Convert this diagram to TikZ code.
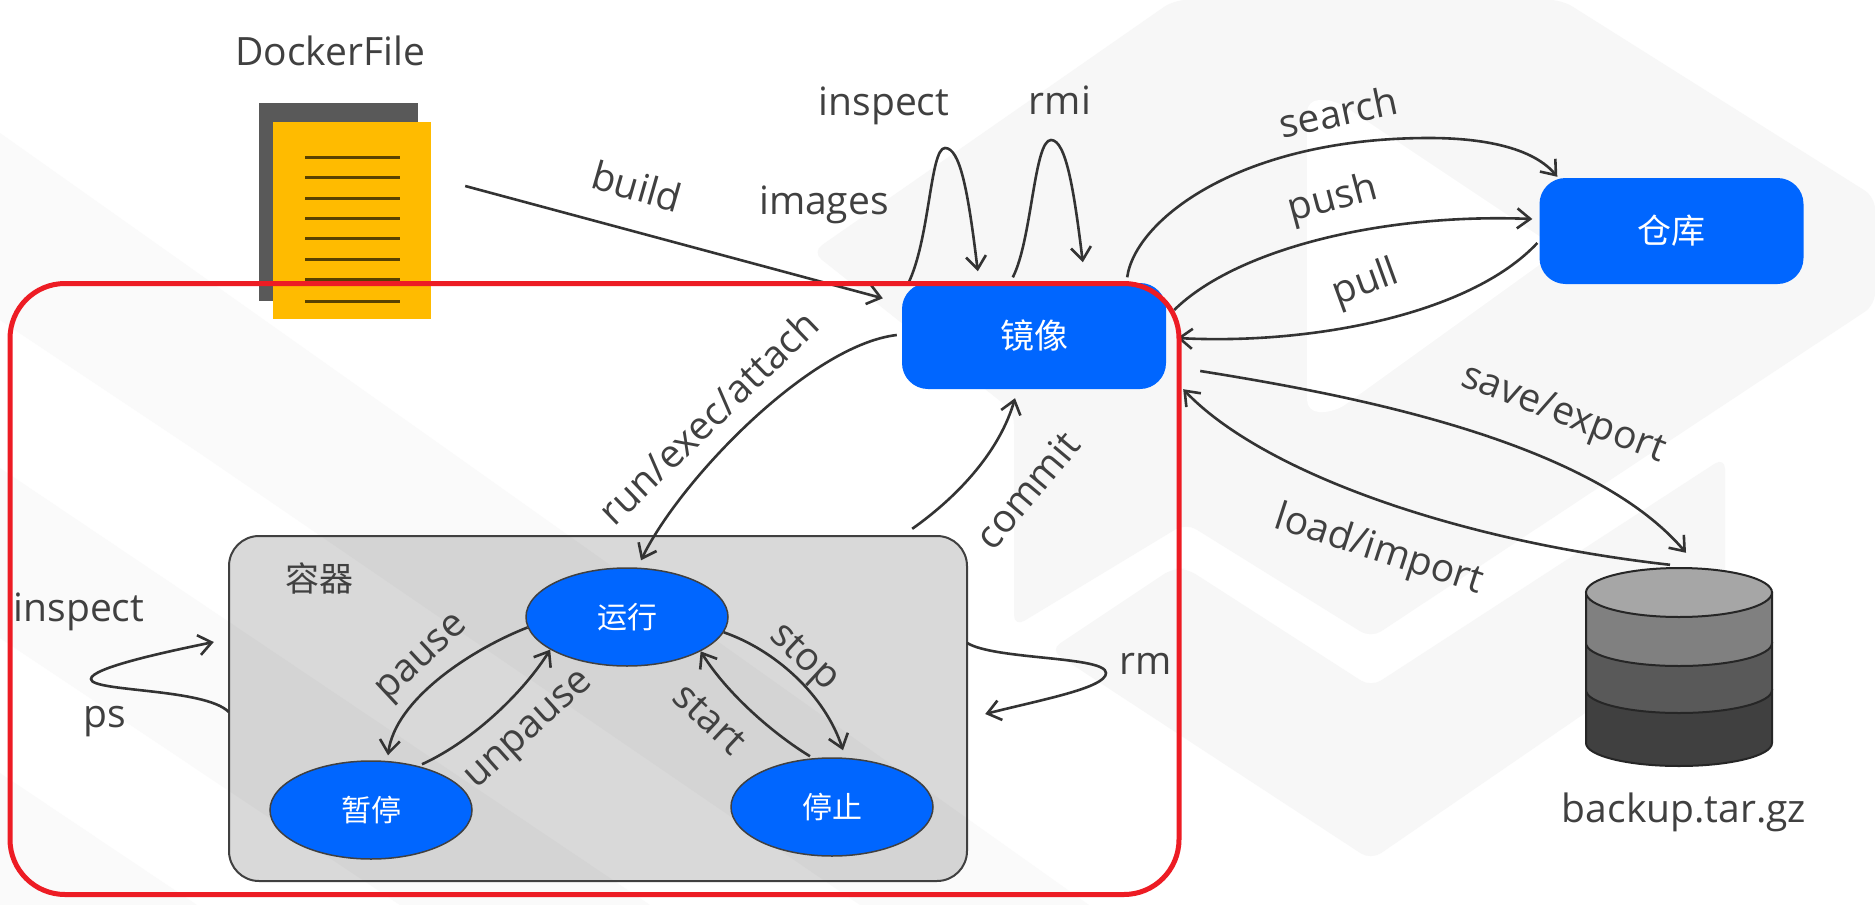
\documentclass[tikz,border=0pt]{standalone}
\usepackage{fontspec}
\setmainfont{Open Sans}
\newfontfamily\cjk{Noto Sans CJK SC}
\usetikzlibrary{shapes.geometric,arrows.meta}
\definecolor{ink}{HTML}{404040}
\definecolor{wire}{HTML}{333333}
\definecolor{brand}{HTML}{0066FF}
\definecolor{shade}{HTML}{F7F7F7}
\definecolor{shadelight}{HTML}{FAFAFA}
\definecolor{framered}{HTML}{ED1C24}
\definecolor{paper}{HTML}{FFBB00}
\tikzset{
  x=1pt,y=-1pt,
  lbl/.style={font=\fontsize{39}{45}\selectfont,text=ink,inner sep=0pt},
  zh/.style={font=\cjk\fontsize{34}{40}\selectfont,inner sep=0pt},
  box/.style={rectangle,rounded corners=26pt,fill=brand,text=white,minimum width=264pt,minimum height=106pt,inner sep=0pt,font=\cjk\fontsize{34}{40}\selectfont},
  state/.style={ellipse,fill=brand,draw=ink,line width=1.5pt,text=white,minimum width=202pt,minimum height=98pt,inner sep=0pt,font=\cjk\fontsize{30}{36}\selectfont},
  link/.style={draw=wire,line width=2.6pt,-{Straight Barb[length=13pt,width=20pt,line width=2.6pt]}},
  stripe/.style={fill=shade,draw=none,rounded corners=12pt},
  sash/.style={fill=shadelight,draw=none},
  knock/.style={fill=white,draw=none,rounded corners=12pt},
  rule/.style={draw=black!65!paper,line width=3pt},
  tier/.style={draw=black!85,line width=2pt}
}
\begin{document}
\begin{tikzpicture}
\useasboundingbox (0,0) rectangle (1875,905);
\fill[white] (0,0) rectangle (1875,905);

% faint logo shapes behind everything
\begin{scope}
\clip (0,0) rectangle (1875,905);
\path[stripe] (812,252) -- (1174,0) -- (1562,0) -- (1875,197) -- (1875,305) -- (1371,638) -- (1186,523) -- (1014,627) -- (1014,412) -- cycle;
\path[knock] (1307,100) -- (1335,100) -- (1560,250) -- (1335,412) -- (1307,412) -- cycle;
\path[stripe] (1050,650) -- (1173,568) -- (1186,568) -- (1371,687) -- (1725,457) -- (1725,617) -- (1371,860) -- cycle;
\path[sash] (0,133) -- (448,450) -- (1089,905) -- (860,905) -- (195,450) -- (0,320) -- cycle;
\path[sash] (0,468) -- (650,905) -- (400,905) -- (0,638) -- cycle;
\path[sash] (0,773) -- (197,905) -- (0,905) -- cycle;
\end{scope}

% Dockerfile sheets
\node[rectangle,fill=black!65,minimum width=159pt,minimum height=198pt,inner sep=0pt] (sheetback) at (338.5,202) {};
\node[rectangle,fill=paper,minimum width=158pt,minimum height=197pt,inner sep=0pt] (sheet) at (352,220.5) {};
\foreach \yy in {157,177,198,218,238,259,279,301}
  \draw[rule] (305,\yy) -- (400,\yy);
\node[lbl] (dockerfile) at (330,51) {DockerFile};

% image and registry
\node[box] (image) at (1034,336) {镜像};
\node[box] (repo) at (1671.5,231) {仓库};

% container frame and its states
\node[rectangle,rounded corners=30pt,fill=black,fill opacity=.15,minimum width=738pt,minimum height=345pt,inner sep=0pt] (container) at (598,708.5) {};
\node[rectangle,rounded corners=30pt,draw=ink,line width=2pt,minimum width=738pt,minimum height=345pt,inner sep=0pt] (containerline) at (598,708.5) {};
\node[zh,text=ink] (containerlabel) at (319,578) {容器};
\node[state] (run) at (627,617) {运行};
\node[state] (pause) at (371,810) {暂停};
\node[state] (stop) at (832,807) {停止};

% backup cylinder
\node[rectangle,minimum width=186pt,minimum height=197pt,inner sep=0pt] (backup) at (1679,666.5) {};
\draw[tier,fill=black!75] (1586,690) -- (1586,743) arc[x radius=93,y radius=-23,start angle=180,end angle=360] -- (1772,690) -- cycle;
\draw[tier,fill=black!65] (1586,643) -- (1586,690) arc[x radius=93,y radius=-23,start angle=180,end angle=360] -- (1772,643) -- cycle;
\draw[tier,fill=black!50] (1586,592.5) -- (1586,643) arc[x radius=93,y radius=-23,start angle=180,end angle=360] -- (1772,592.5) -- cycle;
\draw[tier,fill=black!35] (1679,592.5) ellipse[x radius=93,y radius=24.5];
\node[lbl] (backuplabel) at (1684,812) {backup.tar.gz};

% image commands
\draw[link] ([shift={(34,-34.5)}]sheet.east) -- ([shift={(-19,15.5)}]image.north west);
\draw[link] ([shift={(6,1.5)}]image.north west) .. controls (930,240) and (930,148) .. (945,148) .. controls (960,148) and (968,190) .. ([shift={(76,-11.5)}]image.north west);
\draw[link] ([shift={(111,-5.5)}]image.north west) .. controls (1032,240) and (1034,140) .. (1051,140) .. controls (1066,140) and (1074,190) .. ([shift={(181,-20.5)}]image.north west);
\draw[link] ([shift={(-39,-5.5)}]image.north east) .. controls (1135,220) and (1240,138) .. (1429,138) .. controls (1490,138) and (1535,150) .. ([shift={(18,-1)}]repo.north west);
\draw[link] ([shift={(8,-26)}]image.east) .. controls (1235,250) and (1380,213) .. ([shift={(-7,-12)}]repo.west);
\draw[link] ([shift={(-2,12)}]repo.west) .. controls (1470,315) and (1310,345) .. ([shift={(11,2)}]image.east);
\draw[link] ([shift={(34,35)}]image.east) .. controls (1350,395) and (1590,440) .. ([shift={(7,-15)}]backup.north);
\draw[link] ([shift={(-9,-3)}]backup.north) .. controls (1450,540) and (1260,470) .. ([shift={(17,0)}]image.south east);
\draw[link] ([shift={(-5,-1)}]image.west) .. controls (810,345) and (680,480) .. ([shift={(14,-7)}]run.north);
\draw[link] ([shift={(-55,-7)}]container.north east) .. controls (960,495) and (1000,450) .. ([shift={(-19,9)}]image.south);

% state transitions
\draw[link] (run.186) .. controls (470,650) and (395,700) .. ([shift={(17,-5)}]pause.north);
\draw[link] ([shift={(51,4)}]pause.north) .. controls (475,740) and (525,690) .. (run.203);
\draw[link] (run.-9) .. controls (775,650) and (825,695) .. ([shift={(11,-7)}]stop.north);
\draw[link] ([shift={(-22,-1)}]stop.north) .. controls (775,735) and (728,695) .. (run.-25);

% container commands
\draw[link] ([shift={(0,3.5)}]container.west) .. controls (205,688) and (91,692) .. (91,679) .. controls (91,668) and (165,652) .. ([shift={(-15,-66.5)}]container.west);
\draw[link] ([shift={(0,-65.5)}]container.east) .. controls (995,660) and (1106,656) .. (1106,673) .. controls (1106,688) and (1040,700) .. ([shift={(18,5.5)}]container.east);

% command labels
\node[lbl] (ltinspect) at (884,106) {inspect};
\node[lbl] (ltrmi) at (1060,100) {rmi};
\node[lbl] (ltimages) at (824,205) {images};
\node[lbl,rotate=-16] (ltbuild) at (637,186) {build};
\node[lbl,rotate=12] (ltsearch) at (1338,112) {search};
\node[lbl,rotate=15] (ltpush) at (1333,200) {push};
\node[lbl,rotate=20] (ltpull) at (1366,284) {pull};
\node[lbl,rotate=-21] (ltsave) at (1563,415) {save/export};
\node[lbl,rotate=-18] (ltload) at (1379,551) {load/import};
\node[lbl,rotate=50] (ltcommit) at (1027,490) {commit};
\node[lbl,rotate=44] (ltrun) at (708,417) {run/exec/attach};
\node[lbl] (ltinspectb) at (79,612) {inspect};
\node[lbl] (ltps) at (105,722) {ps};
\node[lbl] (ltrm) at (1146,664) {rm};
\node[lbl,rotate=43] (ltpause) at (424,660) {pause};
\node[lbl,rotate=42] (ltunpause) at (531,732) {unpause};
\node[lbl,rotate=-43] (ltstop) at (803,659) {stop};
\node[lbl,rotate=-43] (ltstart) at (710,719) {start};

% red highlight around the container workflow
\node[rectangle,rounded corners=55pt,draw=framered,line width=5pt,minimum width=1169pt,minimum height=611pt,inner sep=0pt] (focus) at (594.5,589) {};
\end{tikzpicture}
\end{document}
